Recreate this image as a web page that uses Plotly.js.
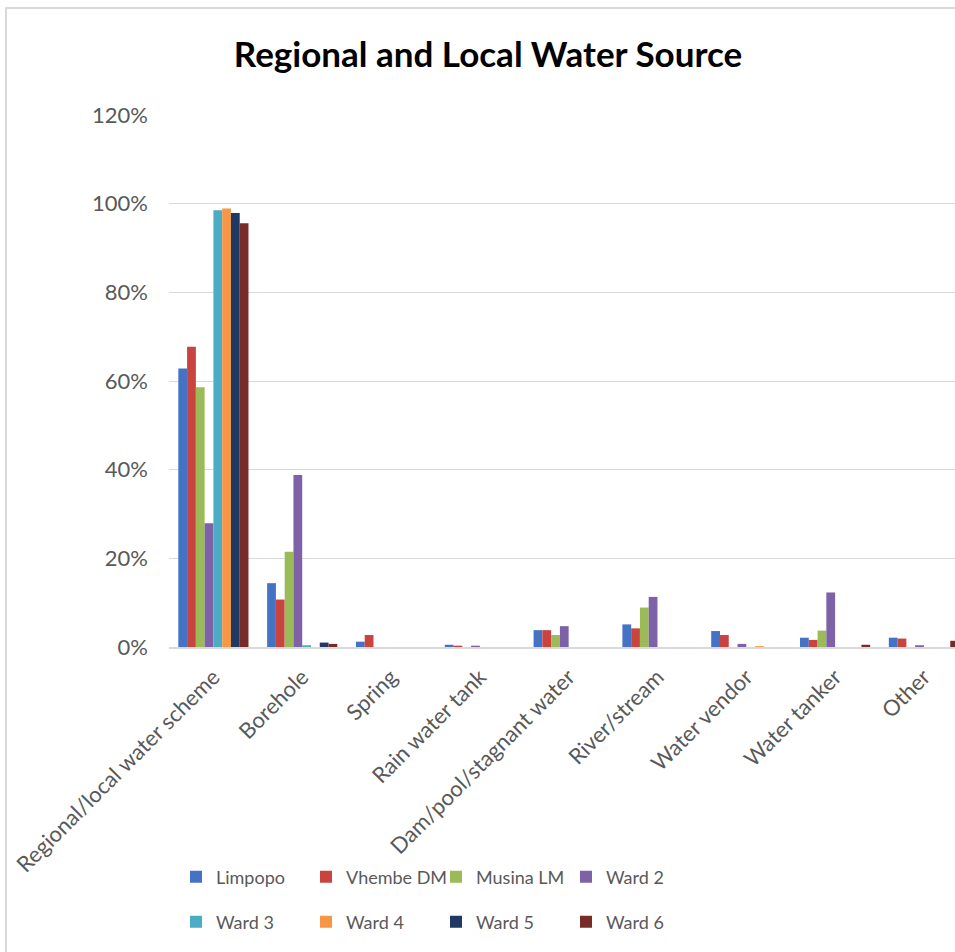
<!DOCTYPE html>
<html>
<head>
<meta charset="utf-8">
<script src="https://cdn.plot.ly/plotly-3.0.1.min.js"></script>
<style>
  html, body { margin: 0; padding: 0; overflow: hidden; background: #fff; }
  #chart { width: 955px; height: 952px; }
  #frame { position: absolute; left: 5px; top: 7px; width: 3000px; height: 3000px;
           border-left: 2px solid #d9d9d9; border-top: 2px solid #d9d9d9; pointer-events: none; }
</style>
</head>
<body>
<div id="chart"></div>
<div id="frame"></div>
<script>
const categories = ['Regional/local water scheme', 'Borehole', 'Spring', 'Rain water tank',
  'Dam/pool/stagnant water', 'River/stream', 'Water vendor', 'Water tanker', 'Other'];

const seriesNames = ['Limpopo', 'Vhembe DM', 'Musina LM', 'Ward 2', 'Ward 3', 'Ward 4', 'Ward 5', 'Ward 6'];

const limpopo  = [62.8, 14.4, 1.2, 0.5, 3.8, 5.1, 3.6, 2.1, 2.1];
const vhembeDM = [67.7, 10.7, 2.7, 0.3, 3.8, 4.2, 2.7, 1.6, 1.9];
const musinaLM = [58.6, 21.5, 0, 0, 2.7, 8.9, 0, 3.7, 0];
const ward2    = [27.9, 38.8, 0, 0.3, 4.7, 11.3, 0.7, 12.3, 0.4];
const ward3    = [98.5, 0.4, 0, 0, 0, 0, 0, 0, 0];
const ward4    = [98.9, 0, 0, 0, 0, 0, 0.2, 0, 0];
const ward5    = [97.9, 1.0, 0, 0, 0, 0, 0, 0, 0];
const ward6    = [95.6, 0.7, 0, 0, 0, 0, 0, 0.5, 1.4];

const yTickVals  = [0, 20, 40, 60, 80, 100, 120];
const yTickText  = ['0%', '20%', '40%', '60%', '80%', '100%', '120%'];

const seriesValues = [limpopo, vhembeDM, musinaLM, ward2, ward3, ward4, ward5, ward6];
const colors = ['#4472C4', '#C9433F', '#9BBB59', '#7E62A8', '#4BACC6', '#F79646', '#203864', '#772C2A'];

const traces = seriesNames.map((name, i) => ({
  type: 'bar',
  name: name,
  x: categories,
  y: seriesValues[i],
  marker: { color: colors[i] },
  legend: i < 4 ? 'legend' : 'legend2'
}));

const legendCommon = {
  orientation: 'h',
  xref: 'container', yref: 'container',
  x: 176 / 955, xanchor: 'left',
  yanchor: 'middle',
  entrywidth: 85, entrywidthmode: 'pixels',
  font: { family: 'Lato, sans-serif', size: 18, color: '#595959' },
  bgcolor: 'rgba(0,0,0,0)'
};

const layout = {
  width: 955, height: 952,
  paper_bgcolor: '#ffffff', plot_bgcolor: '#ffffff',
  font: { family: 'Lato, sans-serif', color: '#595959' },
  margin: { l: 169, r: 0, t: 115, b: 305, autoexpand: false },
  title: {
    text: 'Regional and Local Water Source',
    font: { family: 'Lato, sans-serif', size: 35, color: '#000000', weight: 'bold' },
    xref: 'container', yref: 'container',
    x: 488 / 955, xanchor: 'center',
    y: 1 - 55 / 952, yanchor: 'middle'
  },
  barmode: 'group',
  bargap: 0.21,
  bargroupgap: 0,
  xaxis: {
    type: 'category',
    range: [-0.5, 8.35],
    tickangle: -45,
    tickfont: { family: 'Lato, sans-serif', size: 22, color: '#595959' },
    showline: true, linecolor: '#d9d9d9', linewidth: 1.5,
    showgrid: false, ticks: '', automargin: false,
    ticklabelstandoff: 7
  },
  yaxis: {
    range: [0, 120],
    tickmode: 'array',
    tickvals: yTickVals,
    ticktext: yTickText,
    tickfont: { family: 'Lato, sans-serif', size: 22, color: '#595959' },
    showgrid: true, gridcolor: '#d9d9d9', gridwidth: 1,
    zeroline: false, showline: false, ticks: '', automargin: false,
    ticklabelstandoff: 20
  },
  legend: Object.assign({}, legendCommon, { y: 1 - 877 / 952 }),
  legend2: Object.assign({}, legendCommon, { y: 1 - 922 / 952 }),
  showlegend: true
};

Plotly.newPlot('chart', traces, layout, { displayModeBar: false, staticPlot: true });
</script>
</body>
</html>
